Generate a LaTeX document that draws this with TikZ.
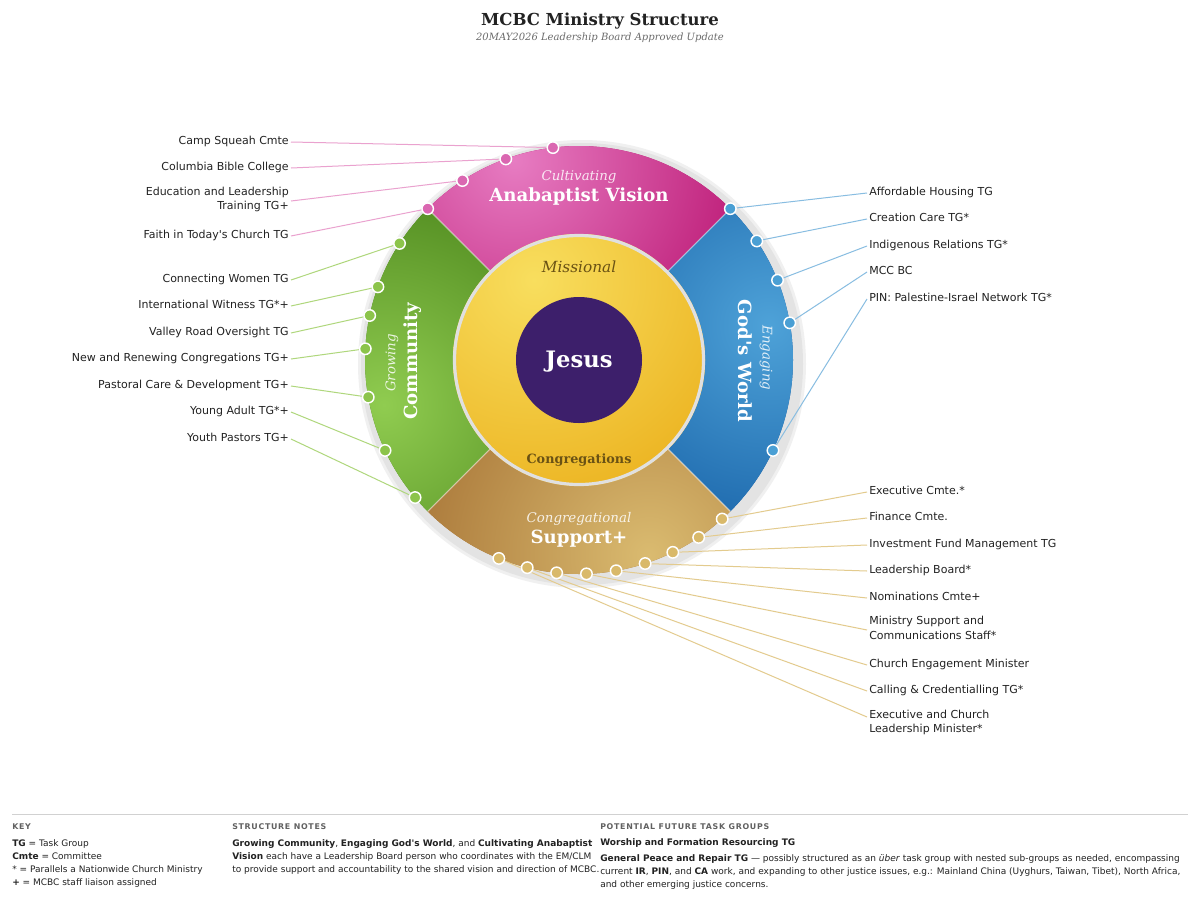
\documentclass[tikz,border=0pt]{standalone}
\usepackage{fontspec}
\defaultfontfeatures{Ligatures=TeXOff}
\setmainfont{DejaVu Sans}[Ligatures=TeXOff]
\newfontfamily\dvserif{DejaVu Serif}[Ligatures=TeXOff]
\newfontfamily\headfont{DejaVu Sans}[LetterSpace=9]
\usetikzlibrary{calc}
\definecolor{pinkL}{HTML}{E77CC2}
\definecolor{pinkD}{HTML}{B8106E}
\definecolor{greenL}{HTML}{90CC50}
\definecolor{greenD}{HTML}{447E16}
\definecolor{blueL}{HTML}{4EA2D8}
\definecolor{blueD}{HTML}{0F58A0}
\definecolor{brownL}{HTML}{DABB70}
\definecolor{brownD}{HTML}{A57134}
\definecolor{yelL}{HTML}{F8DE5E}
\definecolor{yelD}{HTML}{EBB01C}
\definecolor{jesusC}{HTML}{3D1F6B}
\definecolor{pinkDot}{HTML}{DA67B1}
\definecolor{greenDot}{HTML}{8CC44B}
\definecolor{blueDot}{HTML}{4A9FD4}
\definecolor{brownDot}{HTML}{D9B96A}
\definecolor{pinkLn}{HTML}{EAA2CF}
\definecolor{greenLn}{HTML}{AFD77C}
\definecolor{blueLn}{HTML}{88BDE1}
\definecolor{brownLn}{HTML}{E3CB8E}
\definecolor{inkC}{HTML}{222222}
\definecolor{misC}{HTML}{6A5214}
\pgfdeclareradialshading{pinkS}{\pgfpoint{0bp}{0bp}}{color(0bp)=(pinkL); color(25bp)=(pinkD); color(50bp)=(pinkD)}
\pgfdeclareradialshading{greenS}{\pgfpoint{0bp}{0bp}}{color(0bp)=(greenL); color(25bp)=(greenD); color(50bp)=(greenD)}
\pgfdeclareradialshading{blueS}{\pgfpoint{0bp}{0bp}}{color(0bp)=(blueL); color(25bp)=(blueD); color(50bp)=(blueD)}
\pgfdeclareradialshading{brownS}{\pgfpoint{0bp}{0bp}}{color(0bp)=(brownL); color(25bp)=(brownD); color(50bp)=(brownD)}
\pgfdeclareradialshading{yelS}{\pgfpoint{0bp}{0bp}}{color(0bp)=(yelL); color(25bp)=(yelD); color(50bp)=(yelD)}
\tikzset{
  lbl/.style={font=\fontsize{8.25}{11}\selectfont, text=inkC, inner sep=0pt, text height=6.2pt, text depth=1.9pt},
  lblL/.style={lbl, anchor=east, align=right},
  lblR/.style={lbl, anchor=west, align=left},
  dotn/.style={circle, draw=white, line width=1.1pt, minimum size=8.6pt, inner sep=0pt},
  ital/.style={font=\dvserif\itshape\fontsize{10}{12}\selectfont, text=white, text opacity=0.85},
  boldt/.style={font=\dvserif\bfseries\fontsize{13.6}{16}\selectfont, text=white},
  ftxt/.style={anchor=base west, inner sep=0pt, font=\fontsize{6.75}{8}\selectfont, text=inkC},
  fhead/.style={anchor=base west, inner sep=0pt, font=\headfont\bfseries\fontsize{5.9}{7}\selectfont, text=black!62},
}
\begin{document}
\begin{tikzpicture}[x=0.75pt,y=-0.75pt]
\useasboundingbox (0,0) rectangle (1200,900);
\fill[white] (0,0) rectangle (1200,900);
% title
\node[font=\dvserif\bfseries\fontsize{12.4}{15}\selectfont, text=inkC] (title) at (600,21) {MCBC Ministry Structure};
\node[font=\dvserif\itshape\fontsize{7.5}{9}\selectfont, text=black!58] (subtitle) at (600,38) {20MAY2026 Leadership Board Approved Update};
% wheel
\begin{scope}[shift={(579,360)}, yscale=-1]
  \fill[black!6] (3,-4) circle (224);
  \fill[black!11] (3,-4) circle (221);
  \foreach \a/\b/\sh/\dc/\hx/\hy in {45/135/pinkS/pinkD/-65/200, 135/225/greenS/greenD/-195/-45, -45/45/blueS/blueD/190/35, 225/315/brownS/brownD/70/-195}{
    \begin{scope}
      \clip (0,0) -- (\a:214) arc[start angle=\a, end angle=\b, radius=214] -- cycle;
      \fill[\dc] (-220,-220) rectangle (220,220);
      \shade[shading=\sh] (\hx,\hy) circle (270);
    \end{scope}
  }
  \foreach \a in {45,135,225,315}{
    \draw[white, opacity=0.55, line width=0.8pt] (\a:120) -- (\a:214);
  }
  \begin{scope}
    \clip (0,0) circle (126);
    \fill[yelD] (-130,-130) rectangle (130,130);
    \shade[shading=yelS] (-45,80) circle (250);
  \end{scope}
  \draw[black!12, line width=2.4pt] (0,0) circle (124.5);
  \fill[jesusC] (0,0) circle (63);
  % dot positions
  \coordinate (p1) at (97:214);
  \coordinate (p2) at (110:214);
  \coordinate (p3) at (123:214);
  \coordinate (p4) at (135:214);
  \coordinate (g1) at (147:214);
  \coordinate (g2) at (160:214);
  \coordinate (g3) at (168:214);
  \coordinate (g4) at (177:214);
  \coordinate (g5) at (190:214);
  \coordinate (g6) at (205:214);
  \coordinate (g7) at (220:214);
  \coordinate (b1) at (45:214);
  \coordinate (b2) at (33.8:214);
  \coordinate (b3) at (21.9:214);
  \coordinate (b4) at (10:214);
  \coordinate (b5) at (-25:214);
  \coordinate (s1) at (-48:214);
  \coordinate (s2) at (-56:214);
  \coordinate (s3) at (-64:214);
  \coordinate (s4) at (-72:214);
  \coordinate (s5) at (-80:214);
  \coordinate (s6) at (-88:214);
  \coordinate (s7) at (-96:214);
  \coordinate (s8) at (-104:214);
  \coordinate (s9) at (-112:214);
\end{scope}
% wheel texts
\node[ital] (cultiv) at (579,177) {Cultivating};
\node[boldt] (anab) at (579,196) {Anabaptist Vision};
\node[ital, rotate=90] (growing) at (392,363) {Growing};
\node[boldt, rotate=90] (community) at (413,361) {Community};
\node[boldt, rotate=-90] (godsworld) at (745,361) {God\textquotesingle s World};
\node[ital, rotate=-90] (engaging) at (766,358) {Engaging};
\node[ital] (congl) at (579,519) {Congregational};
\node[boldt] (support) at (579,539) {Support+};
\node[font=\dvserif\itshape\fontsize{11.5}{13}\selectfont, text=misC] (missional) at (579,267) {Missional};
\node[font=\dvserif\bfseries\fontsize{9.6}{11}\selectfont, text=misC] (congs) at (579,460) {Congregations};
\node[font=\dvserif\bfseries\fontsize{17}{19}\selectfont, text=white] (jesus) at (579,362) {Jesus};
% left labels
\node[lblL] (L1) at (289,142) {Camp Squeah Cmte};
\node[lblL] (L2) at (289,168) {Columbia Bible College};
\node[lblL] (L3) at (289,207) {Education and Leadership\ \\Training TG+};
\node[lblL] (L4) at (289,236) {Faith in Today\textquotesingle s Church TG};
\node[lblL] (L5) at (289,280) {Connecting Women TG};
\node[lblL] (L6) at (289,306) {International Witness TG*+};
\node[lblL] (L7) at (289,333) {Valley Road Oversight TG};
\node[lblL] (L8) at (289,359) {New and Renewing Congregations TG+};
\node[lblL] (L9) at (289,386) {Pastoral Care \& Development TG+};
\node[lblL] (L10) at (289,412) {Young Adult TG*+};
\node[lblL] (L11) at (289,439) {Youth Pastors TG+};
% right labels
\node[lblR] (R1) at (869,193) {Affordable Housing TG};
\node[lblR] (R2) at (869,219) {Creation Care TG*};
\node[lblR] (R3) at (869,246) {Indigenous Relations TG*};
\node[lblR] (R4) at (869,272) {MCC BC};
\node[lblR] (R5) at (869,299) {PIN: Palestine-Israel Network TG*};
\node[lblR] (R6) at (869,492) {Executive Cmte.*};
\node[lblR] (R7) at (869,518) {Finance Cmte.};
\node[lblR] (R8) at (869,545) {Investment Fund Management TG};
\node[lblR] (R9) at (869,571) {Leadership Board*};
\node[lblR] (R10) at (869,598) {Nominations Cmte+};
\node[lblR] (R11) at (869,636.5) {Ministry Support and\\Communications Staff*};
\node[lblR] (R12) at (869,665) {Church Engagement Minister};
\node[lblR] (R13) at (869,691) {Calling \& Credentialling TG*};
\node[lblR] (R14) at (869,730) {Executive and Church\\Leadership Minister*};
% connectors
\foreach \l/\d in {L1/p1,L2/p2,L4/p4}{\draw[pinkLn, line width=0.75pt] ($(\l.east)+(2,0)$) -- (\d);}
\draw[pinkLn, line width=0.75pt] ($(L3.east)+(2,-6)$) -- (p3);
\foreach \l/\d in {L5/g1,L6/g2,L7/g3,L8/g4,L9/g5,L10/g6,L11/g7}{\draw[greenLn, line width=0.75pt] ($(\l.east)+(2,0)$) -- (\d);}
\foreach \l/\d in {R1/b1,R2/b2,R3/b3,R4/b4,R5/b5}{\draw[blueLn, line width=0.75pt] ($(\l.west)+(-2,0)$) -- (\d);}
\foreach \l/\d in {R6/s1,R7/s2,R8/s3,R9/s4,R10/s5,R12/s7,R13/s8}{\draw[brownLn, line width=0.75pt] ($(\l.west)+(-2,0)$) -- (\d);}
\draw[brownLn, line width=0.75pt] ($(R11.west)+(-2,-6.5)$) -- (s6);
\draw[brownLn, line width=0.75pt] ($(R14.west)+(-2,-13)$) -- (s9);
% dots
\foreach \d in {p1,p2,p3,p4}{\node[dotn, fill=pinkDot] at (\d) {};}
\foreach \d in {g1,g2,g3,g4,g5,g6,g7}{\node[dotn, fill=greenDot] at (\d) {};}
\foreach \d in {b1,b2,b3,b4,b5}{\node[dotn, fill=blueDot] at (\d) {};}
\foreach \d in {s1,s2,s3,s4,s5,s6,s7,s8,s9}{\node[dotn, fill=brownDot] at (\d) {};}
% footer
\coordinate (fl) at (12,814);
\coordinate (fr) at (1188,814);
\draw[black!18, line width=0.75pt] (fl) -- (fr);
\node[fhead] (keyh) at (12,829) {KEY};
\node[ftxt] (k1) at (12,846) {\textbf{TG} = Task Group};
\node[ftxt] (k2) at (12,859) {\textbf{Cmte} = Committee};
\node[ftxt] (k3) at (12,872) {* = Parallels a Nationwide Church Ministry};
\node[ftxt] (k4) at (12,885) {\textbf{+} = MCBC staff liaison assigned};
\node[fhead] (snh) at (232,829) {STRUCTURE NOTES};
\node[ftxt] (sn1) at (232,846) {\textbf{Growing Community}, \textbf{Engaging God\textquotesingle s World}, and \textbf{Cultivating Anabaptist}};
\node[ftxt] (sn2) at (232,859) {\textbf{Vision} each have a Leadership Board person who coordinates with the EM/CLM};
\node[ftxt] (sn3) at (232,872) {to provide support and accountability to the shared vision and direction of MCBC.};
\node[fhead] (pfh) at (600,829) {POTENTIAL FUTURE TASK GROUPS};
\node[ftxt] (pf1) at (600,845) {\textbf{Worship and Formation Resourcing TG}};
\node[ftxt] (pf2) at (600,861) {\textbf{General Peace and Repair TG} — possibly structured as an \textit{über} task group with nested sub-groups as needed, encompassing};
\node[ftxt] (pf3) at (600,874) {current \textbf{IR}, \textbf{PIN}, and \textbf{CA} work, and expanding to other justice issues, e.g.: Mainland China (Uyghurs, Taiwan, Tibet), North Africa,};
\node[ftxt] (pf4) at (600,887) {and other emerging justice concerns.};
\end{tikzpicture}
\end{document}
